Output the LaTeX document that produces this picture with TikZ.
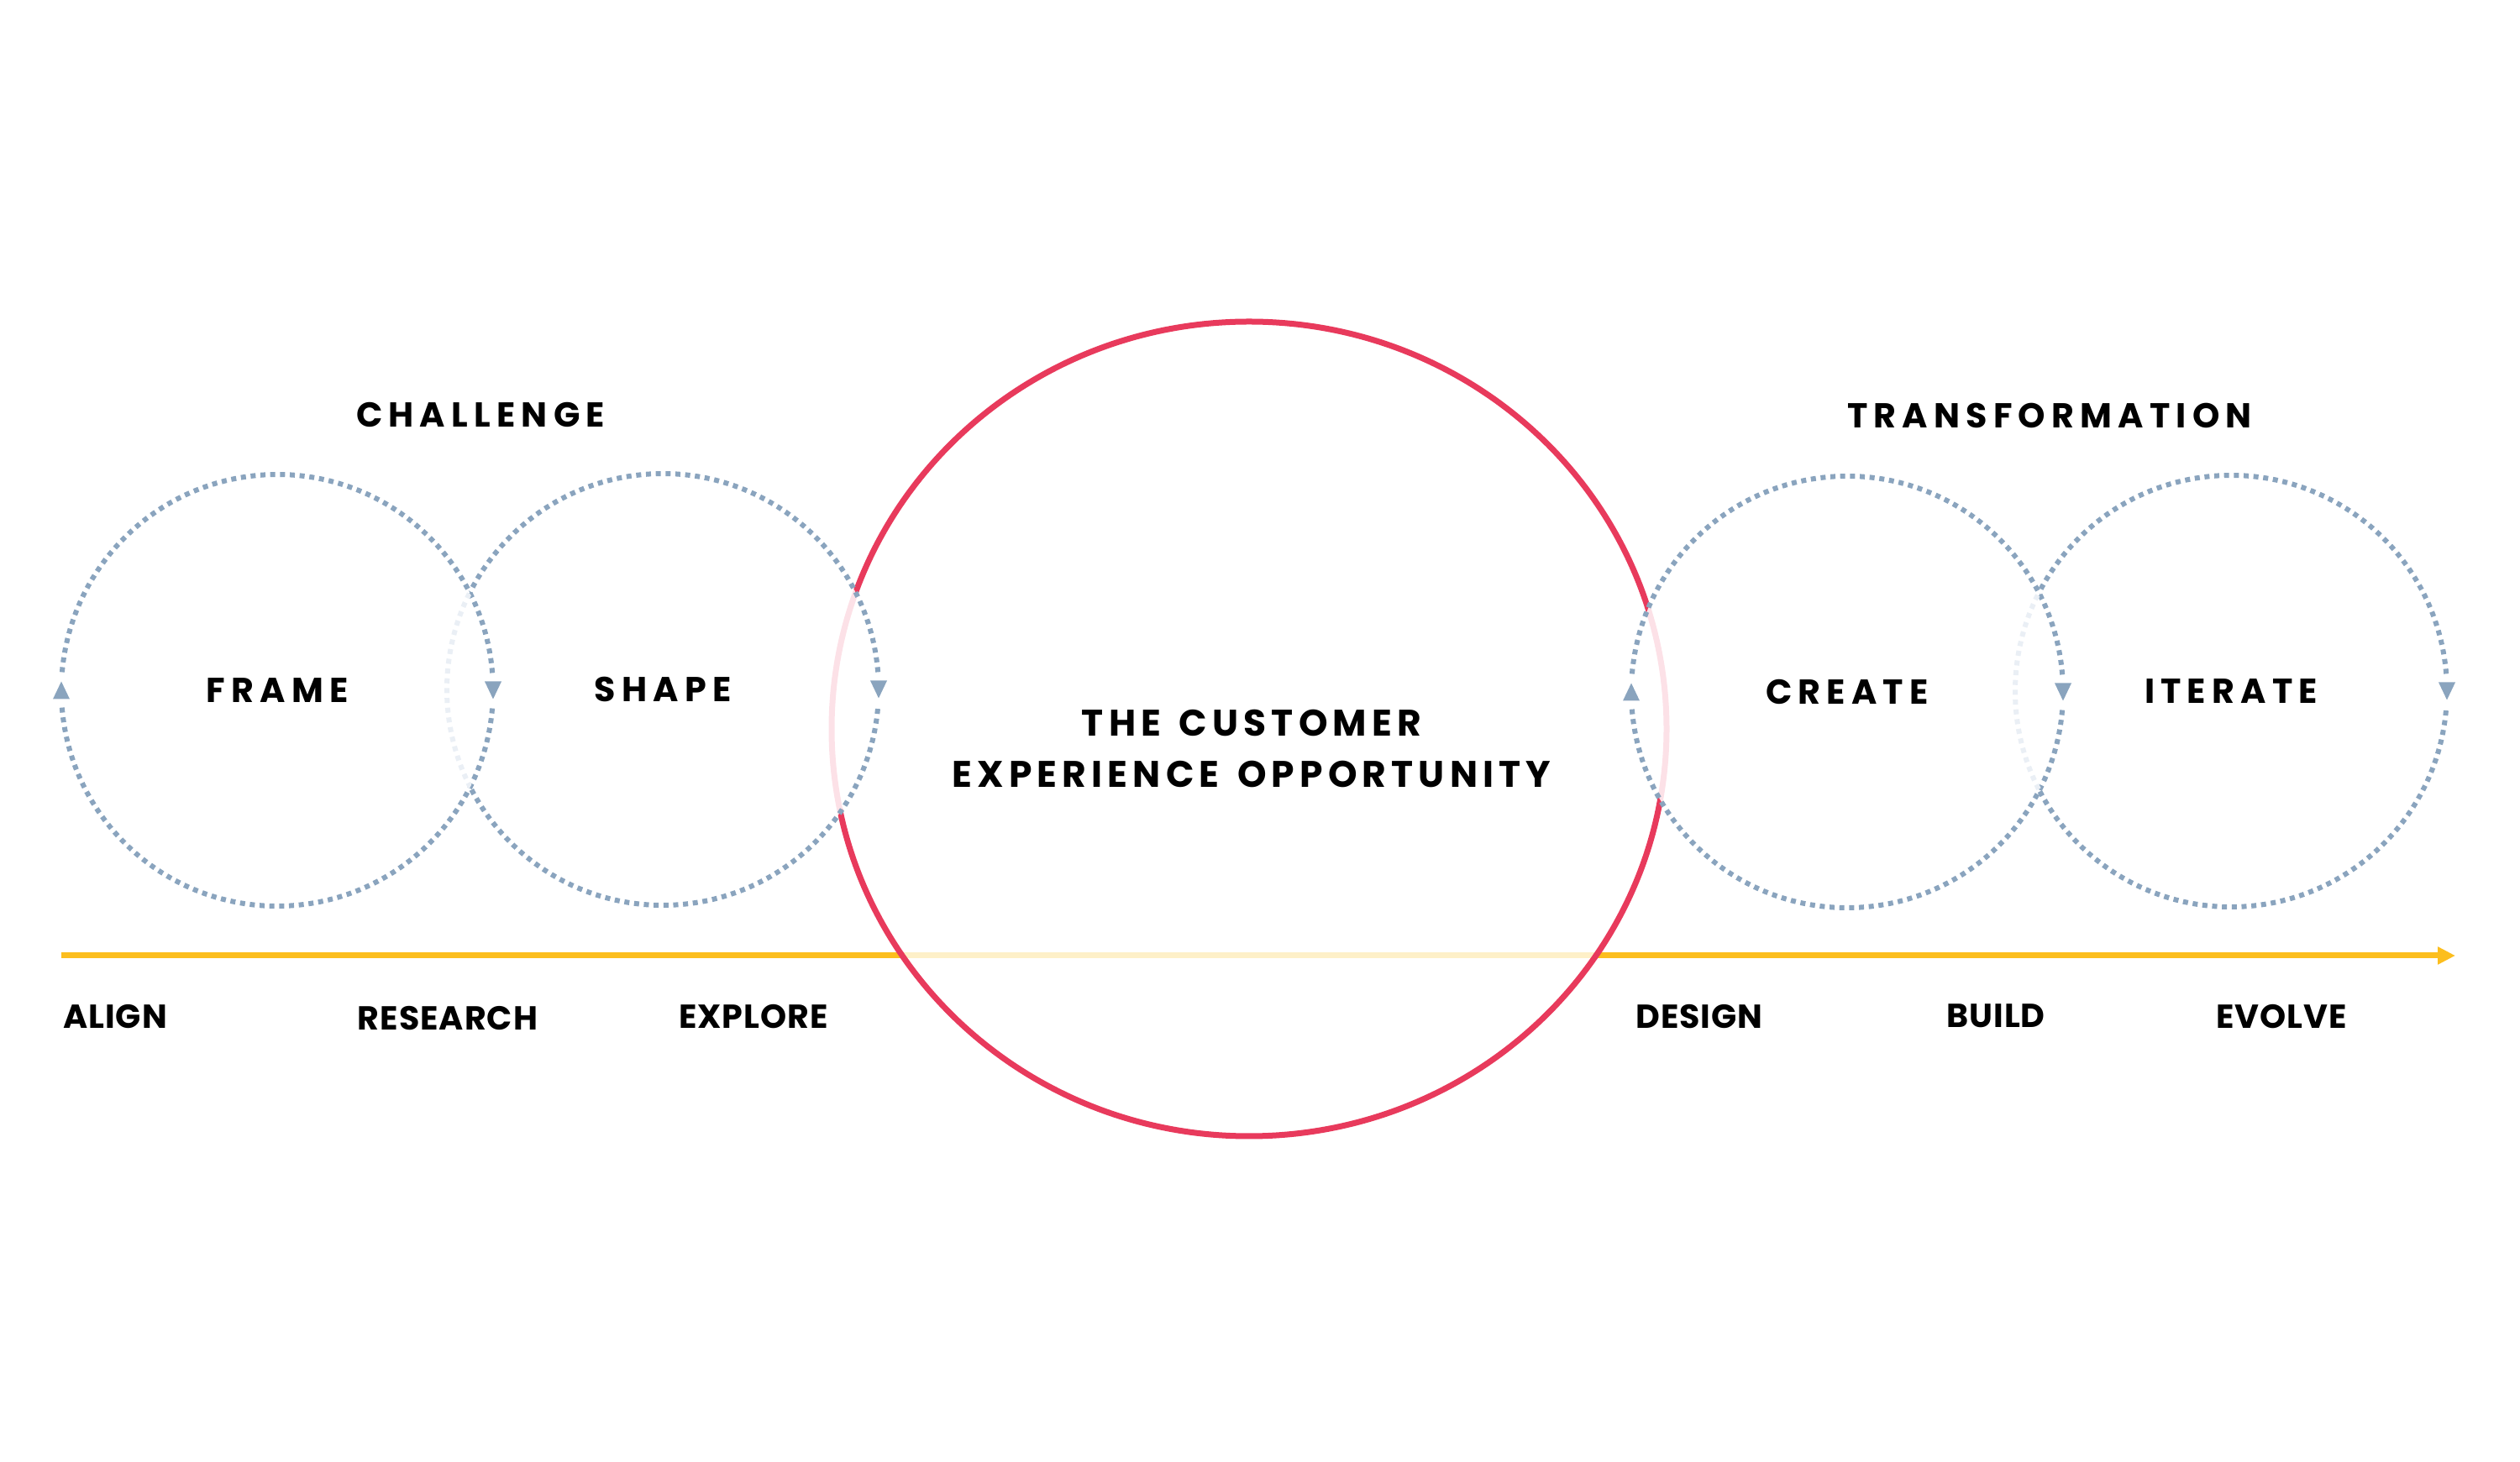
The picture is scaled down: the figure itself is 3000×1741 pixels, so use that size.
\documentclass[tikz,border=0pt]{standalone}
\usepackage{fontspec}
\setmainfont{Poppins}
\newfontfamily\headfont{Poppins}[LetterSpace=17.5]
\newfontfamily\titlefont{Poppins}[LetterSpace=14,WordSpace=1.4]
\newfontfamily\phasefont{Poppins}[LetterSpace=2.5]
\usetikzlibrary{arrows.meta,shapes.geometric}
\definecolor{dotblue}{RGB}{138,164,190}
\definecolor{fadeblue}{RGB}{234,239,245}
\definecolor{cxred}{RGB}{232,58,92}
\definecolor{fadered}{RGB}{252,225,231}
\definecolor{cxyellow}{RGB}{252,190,30}
\definecolor{fadeyellow}{RGB}{254,240,200}
\tikzset{
  ring/.style={circle, minimum size=128.5pt, inner sep=0pt, outer sep=0pt,
    font=\headfont\bfseries\fontsize{10.3}{12}\selectfont},
  heading/.style={inner sep=0pt, font=\headfont\bfseries\fontsize{10.3}{12}\selectfont},
  phase/.style={inner sep=0pt, font=\phasefont\bfseries\fontsize{9.9}{11}\selectfont},
  dots/.style={draw=dotblue, line width=1.5pt, dash pattern=on 1.5pt off 1.42pt},
  fadedots/.style={dots, draw=fadeblue},
  redline/.style={line width=1.75pt},
  yline/.style={line width=1.75pt},
  downtri/.pic={\fill[dotblue] (-10,10.5) -- (10,10.5) -- (0,-10.5) -- cycle;},
  uptri/.pic={\fill[dotblue] (-10,-10.5) -- (10,-10.5) -- (0,10.5) -- cycle;}
}
\begin{document}
\begin{tikzpicture}[x=0.25pt,y=0.25pt]
\useasboundingbox (0,0) rectangle (3000,-1741);
% nodes
\node[ring] (frame) at (330,-822) {FRAME};
\node[ring] (shape) at (789,-821) {SHAPE};
\node[ring] (create) at (2199,-824) {CREATE};
\node[ring] (iterate) at (2656,-823) {ITERATE};
\node[ellipse, minimum width=248.5pt, minimum height=242.5pt, inner sep=0pt, outer sep=0pt] (cxo) at (1487,-868) {};
\node[inner sep=0pt, align=center, font=\titlefont\bfseries\fontsize{11}{15.25}\selectfont] (cxotitle) at (1490,-891) {THE CUSTOMER\\EXPERIENCE OPPORTUNITY};
\node[heading] (challenge) at (572,-494) {CHALLENGE};
\node[heading] (transformation) at (2440,-495) {TRANSFORMATION};
\node[phase] (align) at (137,-1211) {ALIGN};
\node[phase] (research) at (533,-1213) {RESEARCH};
\node[phase] (explore) at (897,-1211) {EXPLORE};
\node[phase] (design) at (2023,-1211) {DESIGN};
\node[phase] (build) at (2376,-1210) {BUILD};
\node[phase] (evolve) at (2716,-1211) {EVOLVE};
\coordinate (ystart) at (73,-1138);
\coordinate (yend) at (2923,-1138);
% yellow time line
\begin{scope}
  \clip (cxo.center) ellipse [x radius=124.25pt, y radius=121.25pt];
  \draw[yline, fadeyellow] (ystart) -- (yend);
\end{scope}
\begin{scope}[even odd rule]
  \clip (-10,10) -- (3010,10) -- (3010,-1751) -- (-10,-1751) -- cycle
     (cxo.center) ellipse [x radius=124.25pt, y radius=121.25pt];
  \draw[yline, cxyellow, -{Triangle[length=5.25pt,width=5pt]}] (ystart) -- (yend);
\end{scope}
% red ellipse
\begin{scope}
  \clip (shape.center) circle [radius=64.25pt] (create.center) circle [radius=64.25pt];
  \draw[redline, fadered] (cxo.center) ellipse [x radius=124.25pt, y radius=121.25pt];
\end{scope}
\begin{scope}[even odd rule]
  \clip (-10,10) -- (3010,10) -- (3010,-1751) -- (-10,-1751) -- cycle
     (shape.center) circle [radius=64.25pt] (create.center) circle [radius=64.25pt];
  \draw[redline, cxred] (cxo.center) ellipse [x radius=124.25pt, y radius=121.25pt];
\end{scope}
% FRAME ring
\draw[dots] (frame.center) ++(4.6:64.25pt) arc [start angle=4.6, end angle=175.4, radius=64.25pt];
\draw[dots] (frame.center) ++(184.6:64.25pt) arc [start angle=184.6, end angle=355.4, radius=64.25pt];
% SHAPE ring
\begin{scope}
  \clip (frame.center) circle [radius=64.25pt];
  \draw[fadedots] (shape.center) circle [radius=64.25pt];
\end{scope}
\begin{scope}[even odd rule]
  \clip (-10,10) -- (3010,10) -- (3010,-1751) -- (-10,-1751) -- cycle
     (frame.center) circle [radius=64.25pt];
  \draw[dots] (shape.center) ++(4.6:64.25pt) arc [start angle=4.6, end angle=355.4, radius=64.25pt];
\end{scope}
% CREATE ring
\draw[dots] (create.center) ++(4.6:64.25pt) arc [start angle=4.6, end angle=175.4, radius=64.25pt];
\draw[dots] (create.center) ++(184.6:64.25pt) arc [start angle=184.6, end angle=355.4, radius=64.25pt];
% ITERATE ring
\begin{scope}
  \clip (create.center) circle [radius=64.25pt];
  \draw[fadedots] (iterate.center) circle [radius=64.25pt];
\end{scope}
\begin{scope}[even odd rule]
  \clip (-10,10) -- (3010,10) -- (3010,-1751) -- (-10,-1751) -- cycle
     (create.center) circle [radius=64.25pt];
  \draw[dots] (iterate.center) ++(4.6:64.25pt) arc [start angle=4.6, end angle=355.4, radius=64.25pt];
\end{scope}
% direction arrows
\pic at (frame.west) {uptri};
\pic at (frame.east) {downtri};
\pic at (shape.east) {downtri};
\pic at (create.west) {uptri};
\pic at (create.east) {downtri};
\pic at (iterate.east) {downtri};
\end{tikzpicture}
\end{document}
